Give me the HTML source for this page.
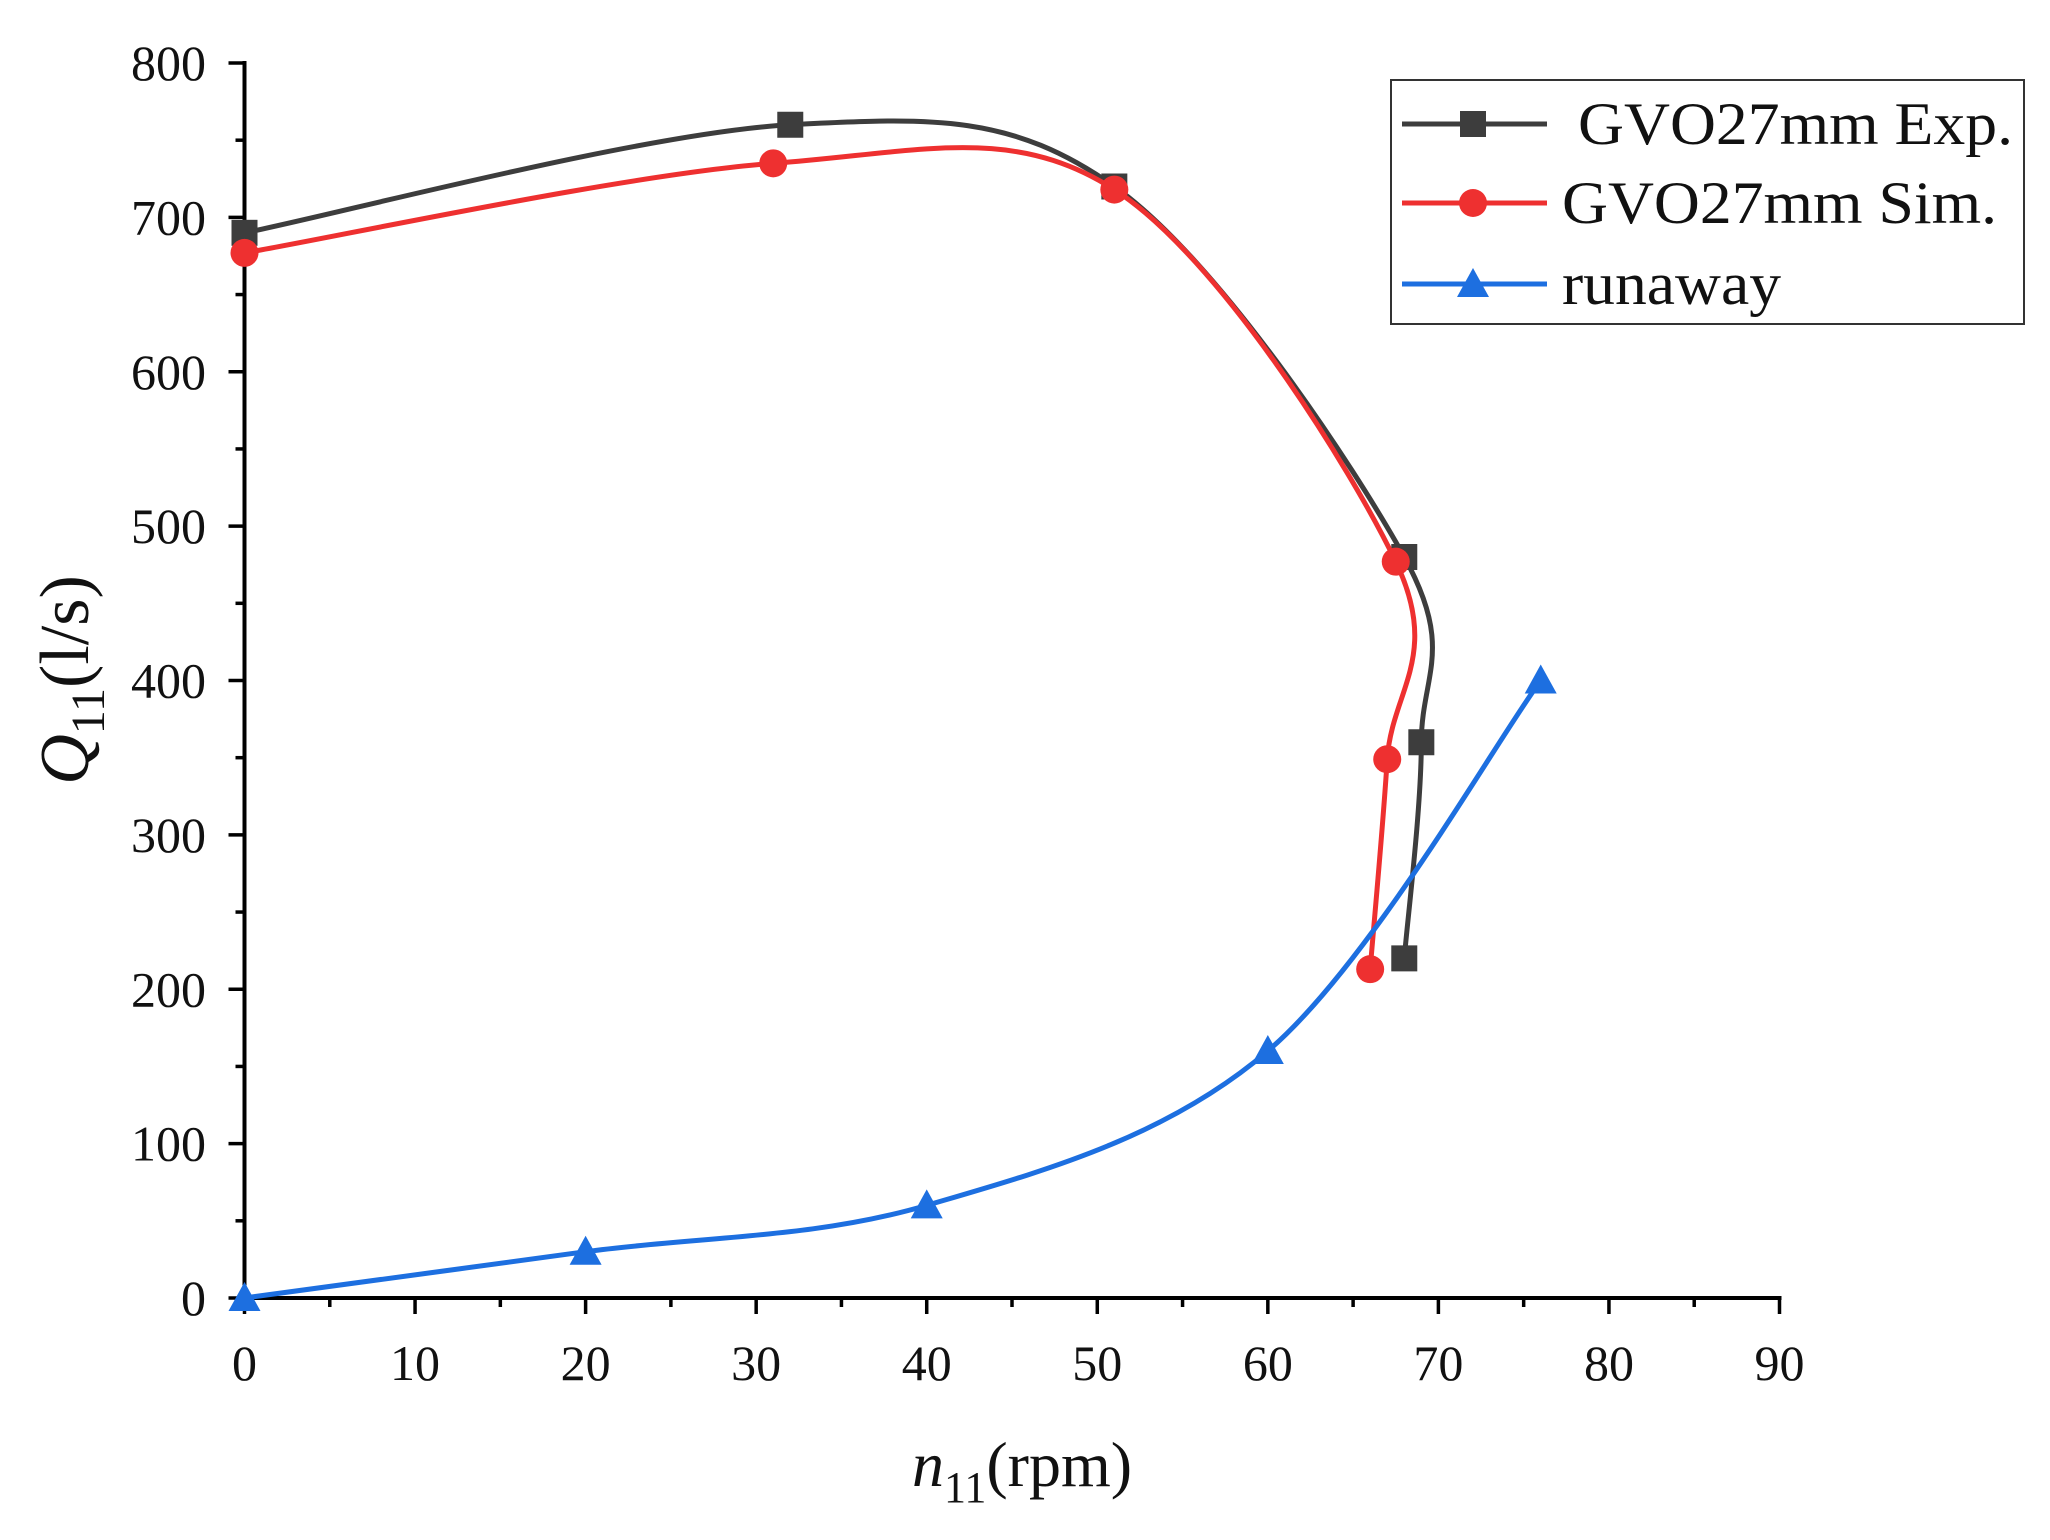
<!DOCTYPE html>
<html><head><meta charset="utf-8"><style>
html,body{margin:0;padding:0;background:#fff;}
svg text{font-family:"Liberation Serif",serif;fill:#111;}
</style></head><body>
<svg id="chart" width="2050" height="1535" viewBox="0 0 2050 1535" xmlns="http://www.w3.org/2000/svg">
<rect width="2050" height="1535" fill="#fff"/>
<g id="axes"></g>
<g id="series"></g>
<g id="legend">
<rect x="1391" y="80" width="633" height="244" fill="#fff" stroke="#333" stroke-width="2"/>
</g>
<text x="1022" y="1486" text-anchor="middle" font-size="64"><tspan font-style="italic">n</tspan><tspan font-size="44" dy="16">11</tspan><tspan dy="-16">(rpm)</tspan></text>
<text transform="translate(88,680) rotate(-90)" text-anchor="middle" font-size="70"><tspan font-style="italic">Q</tspan><tspan font-size="48" dy="16">11</tspan><tspan dy="-16">(l/s)</tspan></text>
</svg>
<script>
const xTicks=[0,10,20,30,40,50,60,70,80,90];
const yTicks=[0,100,200,300,400,500,600,700,800];
const expX=[0,32,51,68,69,68];
const expY=[690,760,720,480,360,220];
const simX=[0,31,51,67.5,67,66];
const simY=[677,735,718,477,349,213];
const runX=[0,20,40,60,76];
const runY=[0,30,60,160,400];
const NS="http://www.w3.org/2000/svg";
const X0=244.5,X1=1779.5,Y0=1298,Y1=63;
function sx(v){return X0+(v-0)/(90-0)*(X1-X0);}
function sy(v){return Y0-(v-0)/(800-0)*(Y0-Y1);}
function mk(tag,attrs,parent){const e=document.createElementNS(NS,tag);for(const k in attrs)e.setAttribute(k,attrs[k]);parent.appendChild(e);return e;}
const axes=document.getElementById('axes');
let l=mk('line',{x1:X0,y1:Y0,x2:X1+2,y2:Y0,stroke:'#000','stroke-width':4},axes);


l=mk('line',{x1:X0,y1:Y0+2,x2:X0,y2:Y1-2,stroke:'#000','stroke-width':4},axes);


for(let i=0;i<=18;i++){const v=i*5;const major=i%2===0;
 const t=mk('line',{x1:sx(v),y1:Y0,x2:sx(v),y2:Y0+(major?16:9),stroke:'#000','stroke-width':3.5},axes);
 
 }
for(let i=0;i<=16;i++){const v=i*50;const major=i%2===0;
 const t=mk('line',{x1:X0,y1:sy(v),x2:X0-(major?16:9),y2:sy(v),stroke:'#000','stroke-width':3.5},axes);
 
 }
xTicks.forEach(v=>{const t=mk('text',{x:sx(v),y:1380,'text-anchor':'middle','font-size':50},axes);t.textContent=v;
 
 });
yTicks.forEach(v=>{const t=mk('text',{x:206,y:sy(v)+17,'text-anchor':'end','font-size':50},axes);t.textContent=v;
 
 });
function spline(pts){let d='M'+pts[0][0]+','+pts[0][1];
 for(let i=0;i<pts.length-1;i++){const p0=pts[i-1]||pts[i],p1=pts[i],p2=pts[i+1],p3=pts[i+2]||p2;
  const c1=[p1[0]+(p2[0]-p0[0])/6,p1[1]+(p2[1]-p0[1])/6],c2=[p2[0]-(p3[0]-p1[0])/6,p2[1]-(p3[1]-p1[1])/6];
  d+=' C'+c1+' '+c2+' '+p2;}return d;}
function marker(g,type,x,y,c){let m;
 if(type==='sq')m=mk('rect',{x:x-13,y:y-13,width:26,height:26,fill:c},g);
 else if(type==='ci')m=mk('circle',{cx:x,cy:y,r:14,fill:c},g);
 else m=mk('polygon',{points:`${x},${y-16} ${x+16},${y+13} ${x-16},${y+13}`,fill:c},g);
 return m;}
const series=document.getElementById('series');
const defs=[['exp',expX,expY,'#3d3d3d','sq'],['sim',simX,simY,'#ee3030','ci'],['runaway',runX,runY,'#1d6fe0','tr']];
defs.forEach(([n,xs,ys,c,t])=>{
 const g=mk('g',{},series);
 
 
 const pts=xs.map((x,i)=>[sx(x),sy(ys[i])]);
 const p=mk('path',{d:spline(pts),fill:'none',stroke:c,'stroke-width':5},g);
 
 
 pts.forEach(q=>{const m=marker(g,t,q[0],q[1],c);
  
  });
});
const legend=document.getElementById('legend');
const labels=[['GVO27mm Exp.',1578,435],['GVO27mm Sim.',1562,435],['runaway',1562,219]];
[124,203,284].forEach((y,i)=>{const [n,,,c,t]=defs[i];
 const g=mk('g',{},legend);
 
 
 mk('line',{x1:1402,y1:y,x2:1547,y2:y,stroke:c,'stroke-width':5},g);
 marker(g,t,1473,y,c);
 const tx=mk('text',{x:labels[i][1],y:y+20,'font-size':60,textLength:labels[i][2],lengthAdjust:'spacingAndGlyphs'},g);tx.textContent=labels[i][0];});
</script>
</body></html>
